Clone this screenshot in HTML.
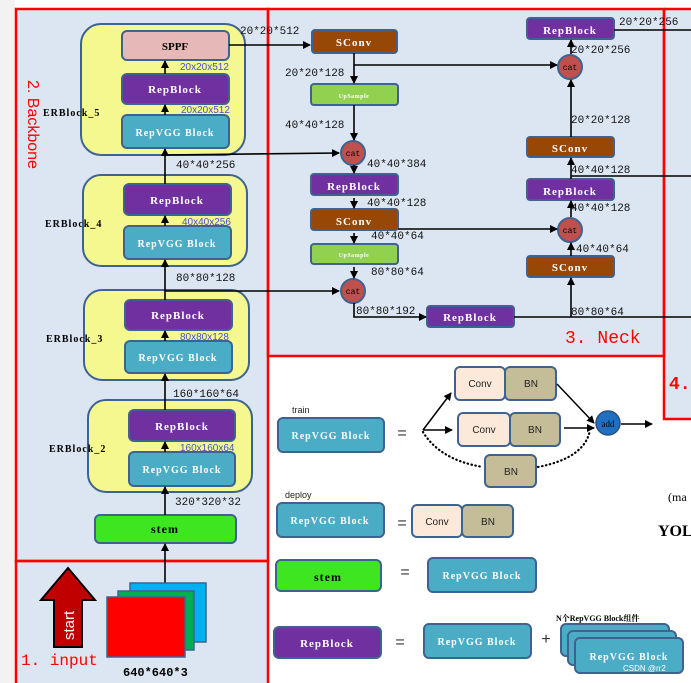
<!DOCTYPE html>
<html><head><meta charset="utf-8"><style>
html,body{margin:0;padding:0;background:#fff;}
svg{display:block;}
text{font-family:"Liberation Serif","Noto Serif CJK SC",serif;}
.b,.b text{font-weight:bold;fill:#fff;font-size:11px;letter-spacing:1px;}
.d,.d text{font-family:"Liberation Mono",monospace;font-size:11px;fill:#111;}
.s{font-family:"Liberation Sans",sans-serif;font-size:10px;fill:#4255c8;}
.l{font-weight:bold;font-size:10px;fill:#000;letter-spacing:1px;}
.c,.c text{font-family:"Liberation Sans",sans-serif;font-size:10px;fill:#222;}
.m text{font-family:"Liberation Mono",monospace;font-size:8px;fill:#000;}
.q text{font-family:"Liberation Sans",sans-serif;font-size:16px;fill:#333;}
</style></head><body>
<svg width="691" height="683" viewBox="0 0 691 683" xmlns="http://www.w3.org/2000/svg">
<defs>
<marker id="a" markerWidth="8" markerHeight="8" refX="7" refY="4" orient="auto" markerUnits="userSpaceOnUse"><path d="M0,0 L8,4 L0,8 z" fill="#000"/></marker>
</defs>
<rect x="0" y="0" width="691" height="683" fill="#fff"/>
<rect x="0" y="0" width="15" height="683" fill="#f2f2f2"/>
<rect x="15" y="8" width="253" height="675" fill="#dce6f2"/>
<rect x="268" y="8" width="396" height="348" fill="#dce6f2"/>
<rect x="664" y="8" width="27" height="411" fill="#dce6f2"/>
<g fill="none" stroke="#ff0000" stroke-width="2.5">
<rect x="16" y="9" width="252" height="552"/>
<rect x="16" y="561" width="252" height="124"/>
<rect x="268" y="9" width="396" height="347"/>
<path d="M664,9 L691,9 M664,9 L664,419 L691,419"/>
</g>
<g fill="#f4f88e" stroke="#3f6391" stroke-width="2">
<rect x="81" y="24" width="164" height="131" rx="20"/>
<rect x="83" y="175" width="164" height="91" rx="18"/>
<rect x="84" y="290" width="165" height="90" rx="18"/>
<rect x="88" y="400" width="164" height="92" rx="18"/>
</g>
<g stroke="#3f6391" stroke-width="2">
<rect x="122" y="31" width="107" height="29" rx="5" fill="#e6b8b7"/>
<rect x="122" y="74" width="107" height="30" rx="5" fill="#7030a0"/>
<rect x="122" y="115" width="107" height="33" rx="5" fill="#4bacc6"/>
<rect x="124" y="184" width="107" height="31" rx="5" fill="#7030a0"/>
<rect x="124" y="226" width="107" height="33" rx="5" fill="#4bacc6"/>
<rect x="125" y="300" width="107" height="30" rx="5" fill="#7030a0"/>
<rect x="125" y="341" width="107" height="32" rx="5" fill="#4bacc6"/>
<rect x="129" y="410" width="106" height="31" rx="5" fill="#7030a0"/>
<rect x="129" y="452" width="106" height="34" rx="5" fill="#4bacc6"/>
<rect x="95" y="515" width="141" height="28" rx="5" fill="#3ee622"/>
</g>
<text x="175" y="50" text-anchor="middle" style="font-weight:bold;font-size:11px;fill:#000">SPPF</text>
<text x="175" y="93" text-anchor="middle" class="b">RepBlock</text>
<text x="175" y="136" text-anchor="middle" class="b" style="font-size:10px">RepVGG Block</text>
<text x="177" y="204" text-anchor="middle" class="b">RepBlock</text>
<text x="177" y="247" text-anchor="middle" class="b" style="font-size:10px">RepVGG Block</text>
<text x="178" y="319" text-anchor="middle" class="b">RepBlock</text>
<text x="178" y="361" text-anchor="middle" class="b" style="font-size:10px">RepVGG Block</text>
<text x="182" y="430" text-anchor="middle" class="b">RepBlock</text>
<text x="182" y="473" text-anchor="middle" class="b" style="font-size:10px">RepVGG Block</text>
<text x="165" y="533" text-anchor="middle" style="font-weight:bold;font-size:12px;fill:#000;letter-spacing:1px">stem</text>
<text x="43" y="116" class="l">ERBlock_5</text>
<text x="45" y="227" class="l">ERBlock_4</text>
<text x="46" y="342" class="l">ERBlock_3</text>
<text x="49" y="452" class="l">ERBlock_2</text>
<text class="s" x="180" y="70">20x20x512</text>
<text class="s" x="181" y="113">20x20x512</text>
<text class="s" x="182" y="225">40x40x256</text>
<text class="s" x="180" y="340">80x80x128</text>
<text class="s" x="180" y="451">160x160x64</text>
<text class="d" x="176" y="168">40*40*256</text>
<text class="d" x="176" y="281">80*80*128</text>
<text class="d" x="173" y="397">160*160*64</text>
<text class="d" x="175" y="505">320*320*32</text>
<text class="d" x="240" y="34">20*20*512</text>
<text x="0" y="0" transform="translate(28,80) rotate(90)" style="font-family:'Liberation Sans',sans-serif;font-size:16px;fill:#ff0000">2. Backbone</text>
<g stroke="#000" stroke-width="1.6" fill="none" marker-end="url(#a)">
<line x1="165" y1="612" x2="165" y2="544"/>
<line x1="165" y1="515" x2="165" y2="487"/>
<line x1="165" y1="452" x2="165" y2="442"/>
<line x1="165" y1="410" x2="165" y2="374"/>
<line x1="165" y1="341" x2="165" y2="331"/>
<line x1="165" y1="300" x2="165" y2="260"/>
<line x1="165" y1="226" x2="165" y2="216"/>
<line x1="165" y1="184" x2="165" y2="149"/>
<line x1="165" y1="115" x2="165" y2="105"/>
<line x1="165" y1="74" x2="165" y2="61"/>
<line x1="229" y1="45" x2="310" y2="45"/>
<line x1="165" y1="155" x2="339" y2="153"/>
<line x1="165" y1="291" x2="339" y2="291"/>
</g>
<polygon points="68,568 95,600 82,600 82,647 54,647 54,600 41,600" fill="#c00000" stroke="#000" stroke-width="2"/>
<text transform="translate(74,640) rotate(-90)" style="font-family:'Liberation Sans',sans-serif;font-size:15px;fill:#fff">start</text>
<rect x="130" y="583" width="76" height="59" fill="#00b0f0" stroke="#3f6391" stroke-width="1.5"/>
<rect x="118" y="591" width="76" height="59" fill="#00b050" stroke="#3f6391" stroke-width="1.5"/>
<rect x="107" y="597" width="78" height="60" fill="#ff0000" stroke="#3f6391" stroke-width="1.5"/>
<text x="123" y="676" style="font-family:'Liberation Mono',monospace;font-weight:bold;font-size:12px;fill:#000">640*640*3</text>
<text x="21" y="665" style="font-family:'Liberation Mono',monospace;font-size:16px;fill:#ff0000">1. input</text>
<g stroke="#3f6391" stroke-width="2">
<rect x="312" y="30" width="85" height="23" rx="3" fill="#974706"/>
<rect x="311" y="84" width="87" height="21" rx="3" fill="#92d050"/>
<rect x="311" y="174" width="87" height="21" rx="3" fill="#7030a0"/>
<rect x="311" y="209" width="87" height="21" rx="3" fill="#974706"/>
<rect x="311" y="244" width="87" height="20" rx="3" fill="#92d050"/>
<rect x="427" y="306" width="87" height="21" rx="3" fill="#7030a0"/>
<rect x="527" y="18" width="87" height="21" rx="3" fill="#7030a0"/>
<rect x="527" y="137" width="87" height="20" rx="3" fill="#974706"/>
<rect x="527" y="179" width="87" height="21" rx="3" fill="#7030a0"/>
<rect x="527" y="256" width="87" height="21" rx="3" fill="#974706"/>
<circle cx="353" cy="153" r="12" fill="#c0504d"/>
<circle cx="353" cy="291" r="12" fill="#c0504d"/>
<circle cx="570" cy="67" r="12" fill="#c0504d"/>
<circle cx="570" cy="230" r="12" fill="#c0504d"/>
</g>
<g text-anchor="middle">
<text x="354" y="46" class="b">SConv</text>
<text x="354" y="225" class="b">SConv</text>
<text x="570" y="152" class="b">SConv</text>
<text x="570" y="271" class="b">SConv</text>
<text x="354" y="190" class="b">RepBlock</text>
<text x="470" y="321" class="b">RepBlock</text>
<text x="570" y="34" class="b">RepBlock</text>
<text x="570" y="195" class="b">RepBlock</text>
<text x="354" y="98" class="b" style="font-size:6px;letter-spacing:0.5px">UpSample</text>
<text x="354" y="257" class="b" style="font-size:6px;letter-spacing:0.5px">UpSample</text>
</g>
<g class="m" text-anchor="middle">
<text x="353" y="156">cat</text><text x="353" y="294">cat</text><text x="570" y="70">cat</text><text x="570" y="233">cat</text>
</g>
<g stroke="#000" stroke-width="1.6" fill="none" marker-end="url(#a)">
<line x1="354" y1="53" x2="354" y2="83"/>
<line x1="354" y1="65" x2="557" y2="65"/>
<line x1="354" y1="105" x2="354" y2="140"/>
<line x1="354" y1="165" x2="354" y2="173"/>
<line x1="354" y1="198" x2="354" y2="208"/>
<line x1="354" y1="233" x2="354" y2="243"/>
<line x1="354" y1="267" x2="354" y2="278"/>
<line x1="398" y1="229" x2="557" y2="229"/>
<polyline points="354,303 354,317 426,317"/>
<line x1="571" y1="317" x2="571" y2="278"/>
<line x1="571" y1="256" x2="571" y2="243"/>
<line x1="571" y1="217" x2="571" y2="201"/>
<line x1="571" y1="179" x2="571" y2="158"/>
<line x1="571" y1="137" x2="571" y2="80"/>
<line x1="571" y1="54" x2="571" y2="40"/>
</g>
<g stroke="#000" stroke-width="1.6">
<line x1="514" y1="317" x2="691" y2="317"/>
<line x1="571" y1="176" x2="691" y2="176"/>
<line x1="614" y1="30" x2="691" y2="30"/>
</g>
<g class="d">
<text x="285" y="76">20*20*128</text>
<text x="285" y="128">40*40*128</text>
<text x="367" y="167">40*40*384</text>
<text x="367" y="206">40*40*128</text>
<text x="371" y="239">40*40*64</text>
<text x="371" y="275">80*80*64</text>
<text x="356" y="314">80*80*192</text>
<text x="571" y="315">80*80*64</text>
<text x="576" y="252">40*40*64</text>
<text x="571" y="211">40*40*128</text>
<text x="571" y="173">40*40*128</text>
<text x="571" y="123">20*20*128</text>
<text x="571" y="53">20*20*256</text>
<text x="619" y="25">20*20*256</text>
</g>
<text x="565" y="343" style="font-family:'Liberation Mono',monospace;font-size:18px;fill:#ff0000">3. Neck</text>
<text x="669" y="389" style="font-family:'Liberation Mono',monospace;font-weight:bold;font-size:18px;fill:#ff0000">4.</text>
<text x="292" y="413" class="c" style="font-size:9px">train</text>
<text x="285" y="498" class="c" style="font-size:9px">deploy</text>
<g stroke="#3f6391" stroke-width="2">
<rect x="278" y="418" width="106" height="34" rx="5" fill="#4bacc6"/>
<rect x="455" y="367" width="50" height="33" rx="5" fill="#fde9d9"/>
<rect x="505" y="367" width="51" height="33" rx="5" fill="#c4bd97"/>
<rect x="458" y="413" width="52" height="33" rx="5" fill="#fde9d9"/>
<rect x="510" y="413" width="50" height="33" rx="5" fill="#c4bd97"/>
<rect x="485" y="455" width="51" height="32" rx="5" fill="#c4bd97"/>
<rect x="277" y="503" width="107" height="34" rx="5" fill="#4bacc6"/>
<rect x="412" y="505" width="50" height="32" rx="5" fill="#fde9d9"/>
<rect x="462" y="505" width="51" height="32" rx="5" fill="#c4bd97"/>
<rect x="276" y="560" width="105" height="31" rx="5" fill="#3ee622"/>
<rect x="428" y="558" width="108" height="34" rx="5" fill="#4bacc6"/>
<rect x="274" y="627" width="107" height="31" rx="5" fill="#7030a0"/>
<rect x="424" y="624" width="107" height="34" rx="5" fill="#4bacc6"/>
<rect x="561" y="624" width="108" height="32" rx="5" fill="#4bacc6"/>
<rect x="568" y="631" width="108" height="34" rx="5" fill="#4bacc6"/>
<rect x="575" y="638" width="108" height="35" rx="5" fill="#4bacc6"/>
</g>
<circle cx="608" cy="423" r="12" fill="#1f6fc2" stroke="#2a4f80" stroke-width="1.5"/>
<text x="608" y="427" text-anchor="middle" style="font-size:9px;fill:#000">add</text>
<g class="c" text-anchor="middle">
<text x="480" y="387">Conv</text><text x="531" y="387">BN</text>
<text x="484" y="433">Conv</text><text x="535" y="433">BN</text>
<text x="511" y="475">BN</text>
<text x="437" y="525">Conv</text><text x="488" y="525">BN</text>
</g>
<g text-anchor="middle">
<text x="331" y="439" class="b" style="font-size:10px">RepVGG Block</text>
<text x="330" y="524" class="b" style="font-size:10px">RepVGG Block</text>
<text x="482" y="579" class="b" style="font-size:10px">RepVGG Block</text>
<text x="477" y="645" class="b" style="font-size:10px">RepVGG Block</text>
<text x="629" y="660" class="b" style="font-size:10px">RepVGG Block</text>
<text x="327" y="647" class="b" style="font-size:11px">RepBlock</text>
</g>
<text x="328" y="581" text-anchor="middle" style="font-weight:bold;font-size:12px;fill:#000;letter-spacing:1px">stem</text>
<g class="q" text-anchor="middle">
<text x="402" y="438">=</text><text x="402" y="528">=</text><text x="405" y="577">=</text><text x="400" y="647">=</text>
<text x="546" y="644">+</text>
</g>
<text x="556" y="621" style="font-weight:bold;font-size:8px;fill:#000">N个RepVGG Block组件</text>
<text x="623" y="671" style="font-family:'Liberation Sans',sans-serif;font-size:8px;fill:#fff">CSDN @rr2</text>
<g stroke="#000" stroke-width="1.5" fill="none">
<line x1="423" y1="430" x2="451" y2="393" marker-end="url(#a)"/>
<line x1="423" y1="430" x2="452" y2="430" marker-end="url(#a)"/>
<line x1="557" y1="384" x2="594" y2="423" marker-end="url(#a)"/>
<line x1="564" y1="428" x2="594" y2="428" marker-end="url(#a)"/>
<line x1="621" y1="424" x2="652" y2="424" marker-end="url(#a)"/>
<path d="M423,432 Q440,460 483,467" stroke-dasharray="0.5,3.5" stroke-width="2.2" stroke-linecap="round"/>
<path d="M538,467 Q585,458 590,430" stroke-dasharray="0.5,3.5" stroke-width="2.2" stroke-linecap="round"/>
</g>
<text x="668" y="501" style="font-size:12px;fill:#000">(ma</text>
<text x="658" y="536" style="font-weight:bold;font-size:16px;fill:#000">YOL</text>
</svg>
</body></html>
